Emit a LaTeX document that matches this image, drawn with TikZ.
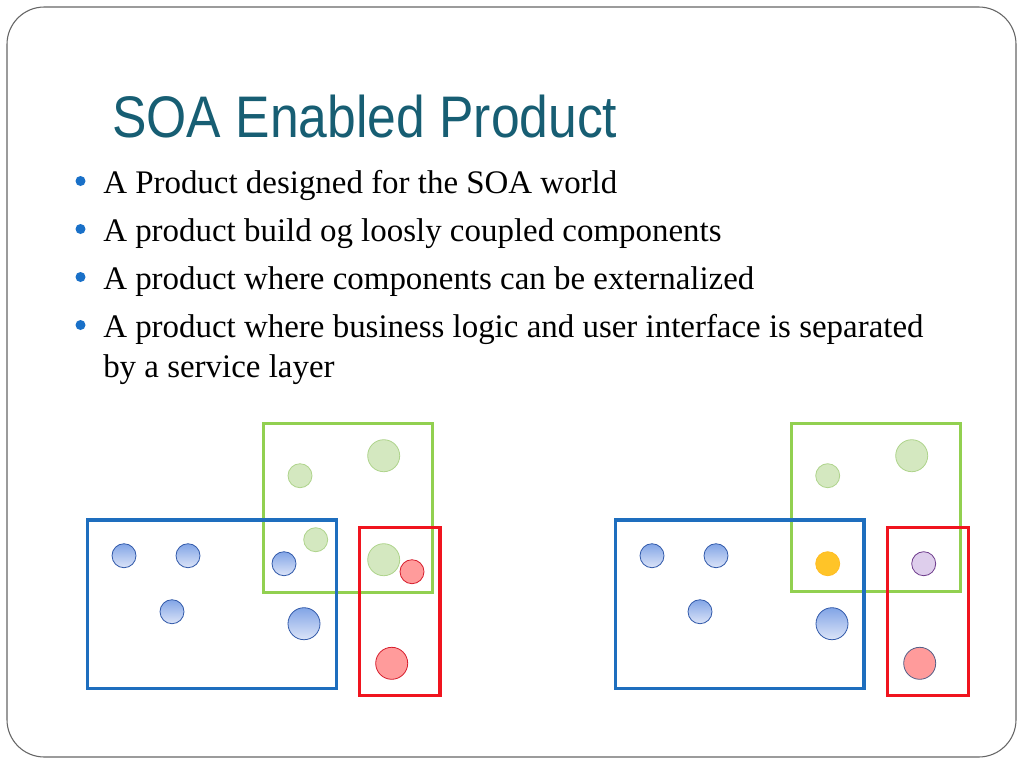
\documentclass[tikz,border=0pt]{standalone}
\usepackage{fontspec}
\setmainfont{Liberation Serif}
\newfontfamily\titlefont[FakeStretch=0.88]{Liberation Sans}
\definecolor{titlec}{RGB}{23,94,115}
\definecolor{bulletc}{RGB}{25,112,200}
\definecolor{boxblue}{RGB}{30,110,190}
\definecolor{boxgreen}{RGB}{146,208,80}
\definecolor{boxred}{RGB}{240,20,30}
\definecolor{bluetop}{RGB}{130,165,230}
\definecolor{bluebot}{RGB}{220,228,248}
\definecolor{blueedge}{RGB}{50,90,170}
\definecolor{greenfill}{RGB}{212,232,192}
\definecolor{greenedge}{RGB}{175,212,140}
\definecolor{redfill}{RGB}{255,155,155}
\definecolor{rededge}{RGB}{215,30,45}
\definecolor{yellowfill}{RGB}{255,196,40}
\definecolor{purplefill}{RGB}{222,206,236}
\definecolor{purpleedge}{RGB}{110,60,140}
\definecolor{pinkedge}{RGB}{85,95,135}
\tikzset{
  x=0.75pt, y=-0.75pt,
  bodytext/.style={anchor=base west, inner sep=0pt, font=\fontsize{24.7}{29}\selectfont},
  bul/.style={circle, fill=bulletc, inner sep=0pt, minimum size=7.5pt},
  bluebox/.style={draw=boxblue, line width=2.3pt},
  greenbox/.style={draw=boxgreen, line width=2.3pt},
  redbox/.style={draw=boxred, line width=2.3pt},
  bc/.style={circle, draw=blueedge, line width=0.6pt, top color=bluetop, bottom color=bluebot, inner sep=0pt, minimum size=#1},
  gc/.style={circle, draw=greenedge, line width=0.6pt, fill=greenfill, inner sep=0pt, minimum size=#1},
  rc/.style={circle, draw=rededge, line width=0.6pt, fill=redfill, inner sep=0pt, minimum size=#1},
  yc/.style={circle, draw=yellowfill!90!orange, line width=0.6pt, fill=yellowfill, inner sep=0pt, minimum size=#1},
  pc/.style={circle, draw=purpleedge, line width=0.6pt, fill=purplefill, inner sep=0pt, minimum size=#1},
  kc/.style={circle, draw=pinkedge, line width=0.6pt, fill=redfill, inner sep=0pt, minimum size=#1},
}
\begin{document}
\begin{tikzpicture}
\useasboundingbox (0,0) rectangle (1024,768);
\fill[white] (0,0) rectangle (1024,768);
\draw[rounded corners=28pt, draw=black!60, line width=0.8pt] (7,7) rectangle (1016,757);

\node[anchor=base west, inner sep=0pt, text=titlec, font=\titlefont\fontsize{44}{50}\selectfont] (title) at (112,137) {SOA Enabled Product};

\node[bul] (b1) at (80.5,181) {};
\node[bul] (b2) at (80.5,229) {};
\node[bul] (b3) at (80.5,277) {};
\node[bul] (b4) at (80.5,325) {};
\node[bodytext] (t1) at (103,193) {A Product designed for the SOA world};
\node[bodytext] (t2) at (103,241) {A product build og loosly coupled components};
\node[bodytext] (t3) at (103,289) {A product where components can be externalized};
\node[bodytext] (t4) at (103,337) {A product where business logic and user interface is separated};
\node[bodytext] (t5) at (103,377) {by a service layer};

% left diagram
\draw[greenbox] (263.3,423.3) rectangle (432.3,592.3);
\draw[bluebox] (87.3,520) rectangle (336.7,688.3);
\draw[redbox] (359.3,527.7) rectangle (440,695.7);
\node[gc=18pt] (lg1) at (300,475.7) {};
\node[gc=24pt] (lg2) at (383.7,455.7) {};
\node[gc=18pt] (lg3) at (315.7,539.7) {};
\node[gc=24pt] (lg4) at (383.7,559.7) {};
\node[rc=18pt] (lr1) at (412,571.7) {};
\node[rc=24pt] (lr2) at (391.7,663.3) {};
\node[bc=18pt] (lb1) at (124,555.7) {};
\node[bc=18pt] (lb2) at (188,555.7) {};
\node[bc=18pt] (lb3) at (284,563.7) {};
\node[bc=18pt] (lb4) at (172,611.7) {};
\node[bc=24pt] (lb5) at (304,623.7) {};

% right diagram
\draw[greenbox] (791.7,423.3) rectangle (960.7,591.7);
\draw[bluebox] (615.7,520) rectangle (864,688.3);
\draw[redbox] (887.7,527.7) rectangle (968.3,695.7);
\node[gc=18pt] (rg1) at (827.7,475.7) {};
\node[gc=24pt] (rg2) at (911.7,455.7) {};
\node[yc=18pt] (ry1) at (827.7,563.7) {};
\node[pc=18pt] (rp1) at (923.7,563.7) {};
\node[bc=18pt] (rb1) at (652,555.7) {};
\node[bc=18pt] (rb2) at (716,555.7) {};
\node[bc=18pt] (rb3) at (700,611.7) {};
\node[bc=24pt] (rb4) at (832,623.7) {};
\node[kc=24pt] (rk1) at (919.7,663.3) {};
\end{tikzpicture}
\end{document}
